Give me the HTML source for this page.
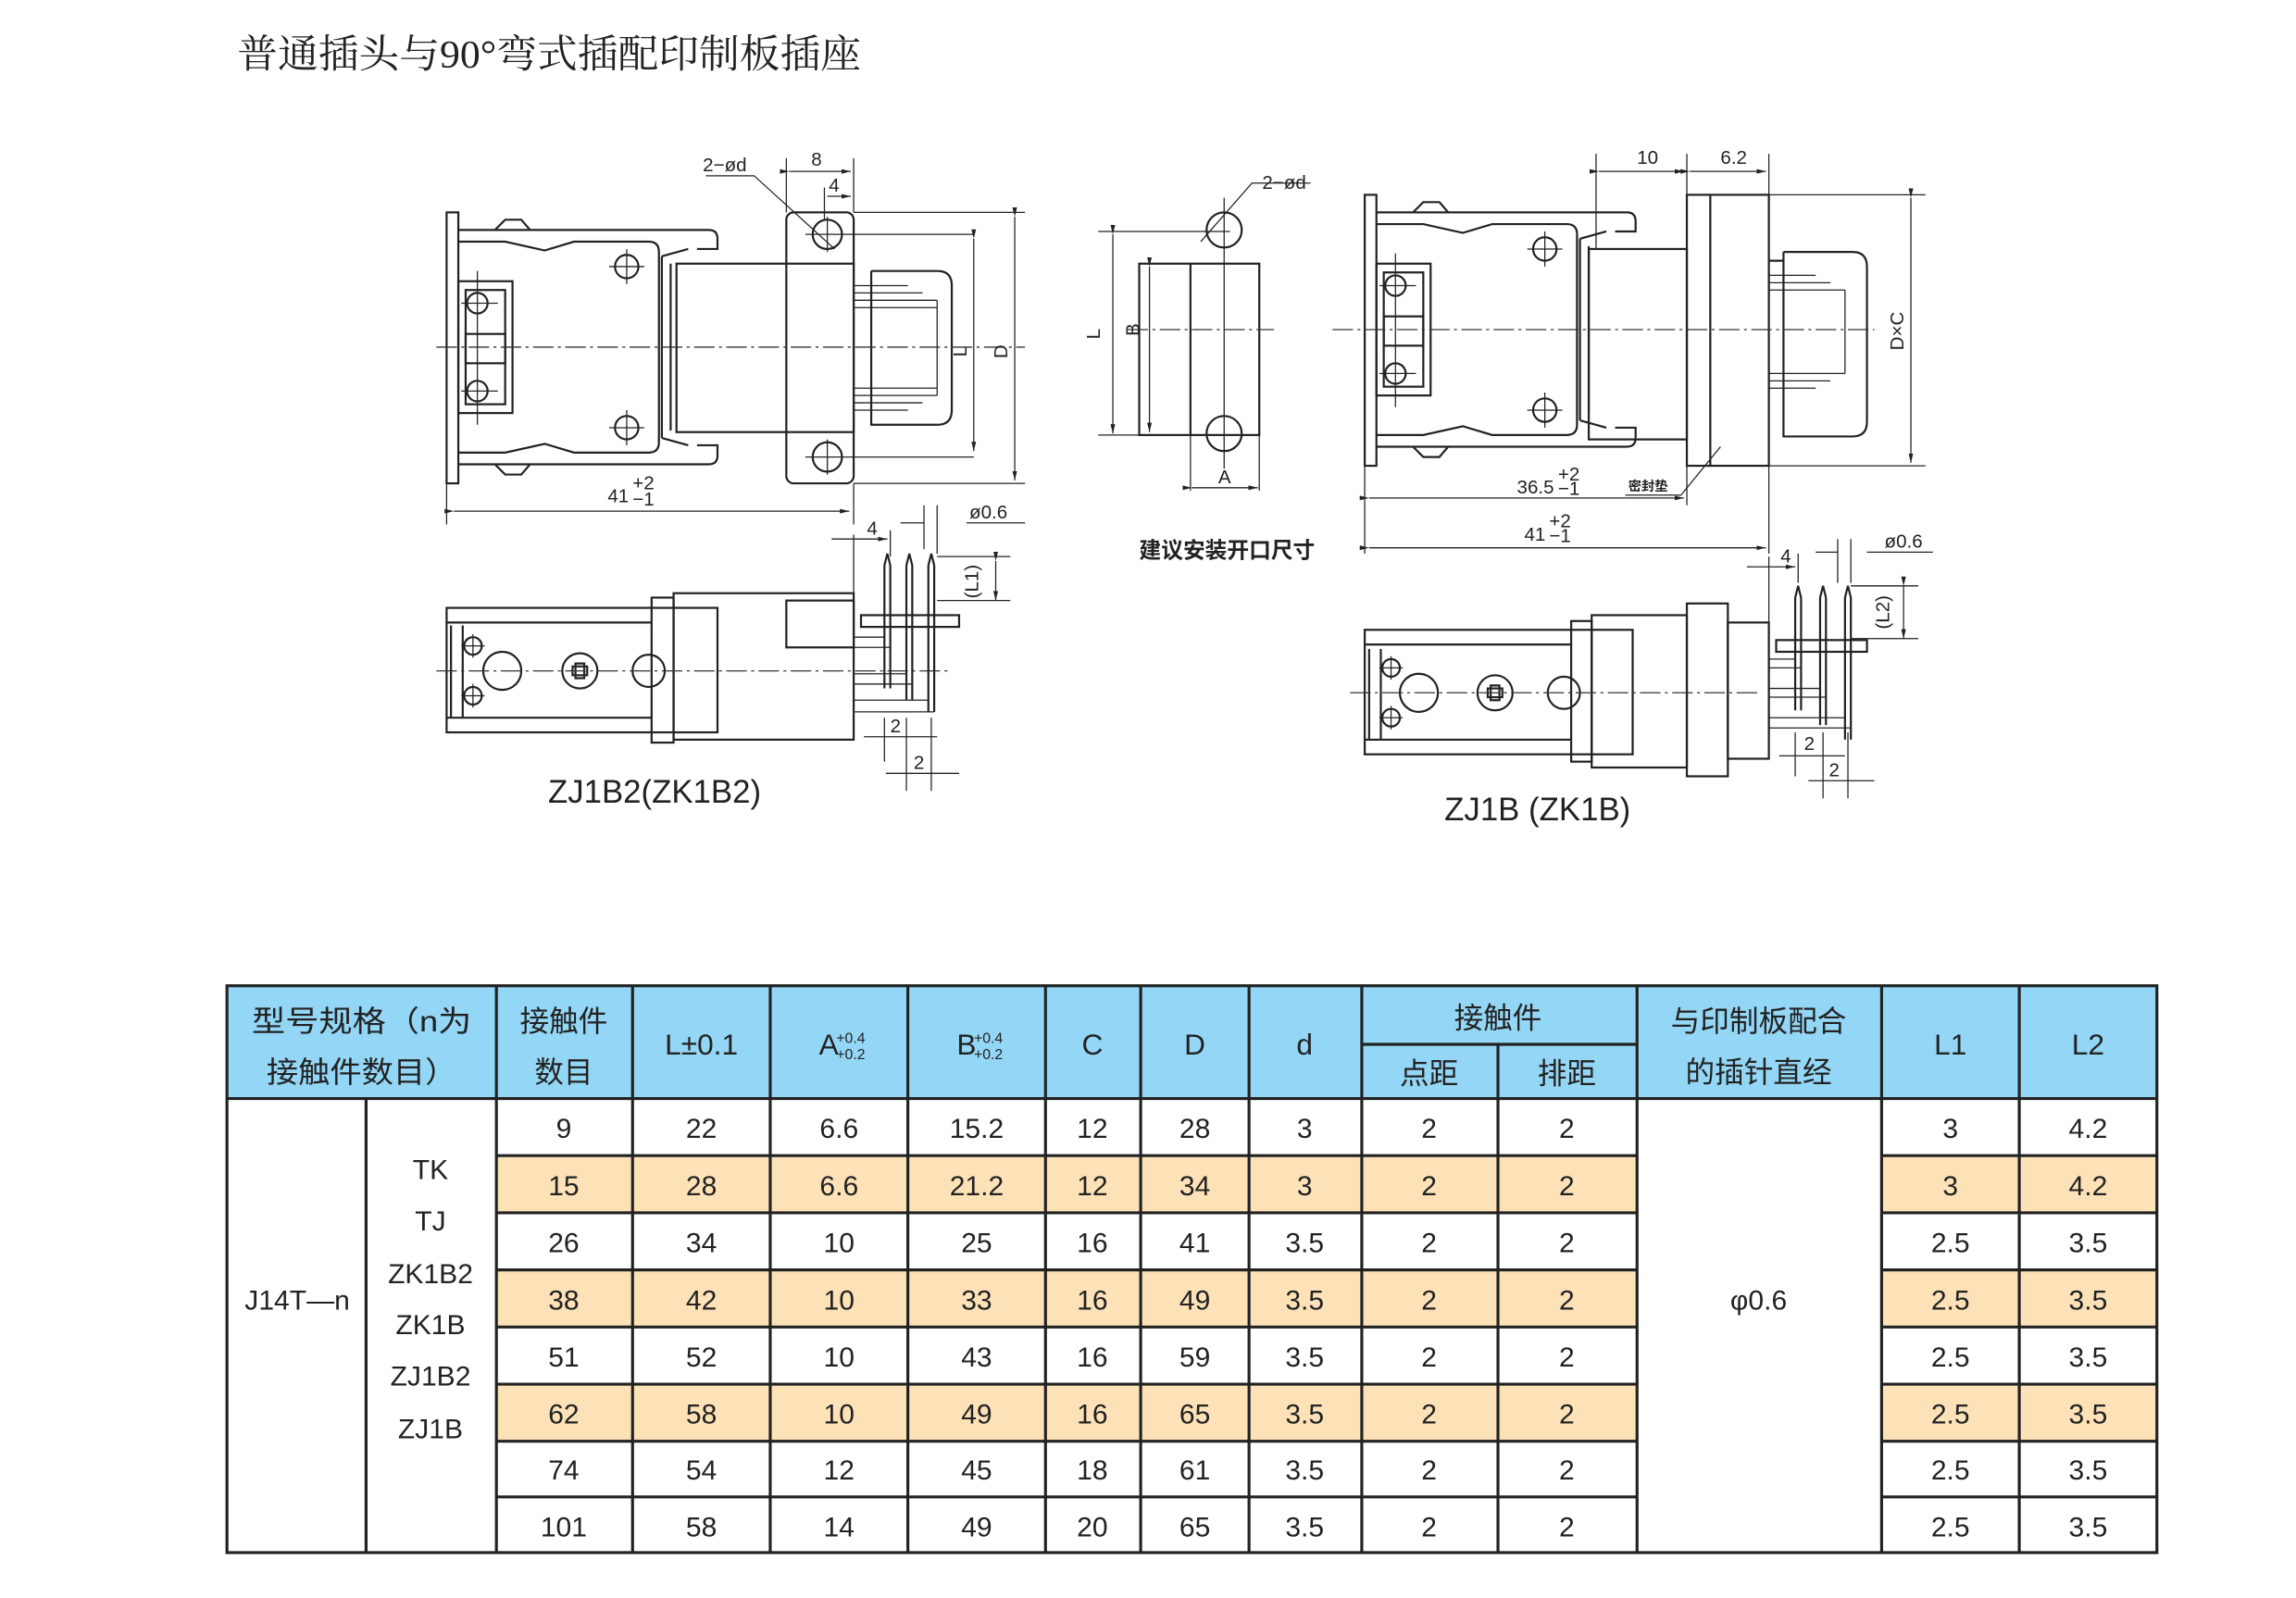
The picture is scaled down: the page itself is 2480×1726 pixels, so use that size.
<!DOCTYPE html>
<html><head><meta charset="utf-8"><style>
html,body{margin:0;padding:0;background:#fff;}
svg{display:block;}
.l{fill:none;stroke:#222;stroke-width:1.4;}
.t{fill:none;stroke:#222;stroke-width:0.8;}
.c{fill:none;stroke:#333;stroke-width:0.8;stroke-dasharray:14 3 2 3;}
.d{font-family:"Liberation Sans",sans-serif;font-size:13px;fill:#222;}
.tb{font-family:"Liberation Sans","Noto Sans CJK SC",sans-serif;font-size:19px;fill:#222;text-anchor:middle;}
.hd{font-family:"Liberation Sans","Noto Sans CJK SC",sans-serif;font-size:20px;fill:#222;text-anchor:middle;}
</style></head><body>
<svg width="2480" height="1726" viewBox="0 0 1568 1091" preserveAspectRatio="none" xmlns="http://www.w3.org/2000/svg">
<defs>
<marker id="a" markerWidth="8" markerHeight="6" refX="8" refY="3" orient="auto"><path d="M0,1 L8,3 L0,5z" fill="#222"/></marker>
<g id="plug">
  <rect class="l" x="305" y="145" width="8" height="185"/>
  <path class="l" d="M313,157 H484 Q490,157 490,163 V170 H476 M313,317 H484 Q490,317 490,311 V304 H476"/>
  <path class="l" d="M313,165 H345 L372,171 L392,165 H443 Q450,165 450,172 V302 Q450,309 443,309 H392 L372,303 L345,309 H313"/>
  <path class="l" d="M338,157 L345,150 H356 L362,157 M338,317 L345,324 H356 L362,317"/>
  <rect class="l" x="313" y="192" width="37" height="90"/>
  <rect class="l" x="318" y="198" width="27" height="78"/>
  <rect class="l" x="318" y="228" width="27" height="20"/>
  <circle class="l" cx="326" cy="207" r="7"/><circle class="l" cx="326" cy="267" r="7"/>
  <path class="t" d="M326,185 V290 M315,207 H340 M315,267 H340"/>
  <circle class="l" cx="428" cy="182" r="8"/><circle class="l" cx="428" cy="292" r="8"/>
  <path class="t" d="M416,182 H440 M428,170 V194 M416,292 H440 M428,280 V304"/>
  <path class="l" d="M452,175 V299 M458,180 V294 M452,175 L470,170 M452,299 L470,304"/>
</g>
</defs>
<text x="162" y="46" font-family="'Liberation Serif','Noto Serif CJK SC',serif" font-size="27" fill="#222" textLength="426" lengthAdjust="spacingAndGlyphs">普通插头与90°弯式插配印制板插座</text>

<use href="#plug"/>
<rect class="l" x="462" y="180" width="121" height="115"/>
<rect class="l" x="537" y="145" width="46" height="185" rx="5"/>
<circle class="l" cx="565" cy="160" r="10"/><circle class="l" cx="565" cy="312" r="10"/>
<path class="t" d="M550,160 H665 M550,312 H665 M565,148 V172 M565,300 V324"/>
<path class="l" d="M595,185 H640 Q650,185 650,195 V280 Q650,290 640,290 H595 V185"/>
<path class="t" d="M583,195 H620 M583,200 H630 M583,205 H640 M583,210 H640 M583,265 H640 M583,270 H640 M583,275 H630 M583,280 H620 M640,205 V270"/>
<path class="c" d="M298,237 H700"/>
<path class="t" d="M583,145 H700 M583,330 H700"/>
<path class="t" d="M665,163 V308" marker-start="url(#a)" marker-end="url(#a)"/>
<path class="t" d="M693,148 V328" marker-start="url(#a)" marker-end="url(#a)"/>
<text class="d" x="660" y="240" transform="rotate(-90 660 240)" text-anchor="middle">L</text>
<text class="d" x="688" y="240" transform="rotate(-90 688 240)" text-anchor="middle">D</text>
<path class="t" d="M305,330 V358 M583,330 V358 M537,108 V145 M583,108 V145 M563,128 V150"/>
<path class="t" d="M310,349 H580" marker-start="url(#a)" marker-end="url(#a)"/>
<text class="d" x="415" y="343">41</text><text x="432" y="334" font-size="8" class="d">+2</text><text x="432" y="345" font-size="8" class="d">−1</text>
<path class="t" d="M539,117 H581" marker-start="url(#a)" marker-end="url(#a)"/>
<text class="d" x="554" y="113">8</text>
<path class="t" d="M565,134 H581" marker-end="url(#a)"/><text class="d" x="566" y="131">4</text>
<text class="d" x="480" y="117">2−ød</text>
<path class="t" d="M482,120 H515 L570,170"/>

<rect class="l" x="305" y="415" width="185" height="85"/>
<path class="l" d="M305,425 H445 M305,490 H445 M308,427 V490 M316,427 V490"/>
<rect class="l" x="445" y="408" width="15" height="99"/>
<rect class="l" x="460" y="405" width="123" height="100"/>
<rect class="l" x="537" y="410" width="46" height="32"/>
<circle class="l" cx="343" cy="458" r="13"/><circle class="l" cx="396" cy="458" r="12"/><circle class="l" cx="443" cy="458" r="11"/>
<path class="l" d="M391,455 H401 V461 H391Z M393,453 H399 V463 H393Z"/>
<circle class="l" cx="323" cy="441" r="6"/><circle class="l" cx="323" cy="475" r="6"/>
<path class="t" d="M315,441 H331 M323,433 V449 M315,475 H331 M323,467 V483"/>
<path class="c" d="M298,458 H650"/>
<rect class="l" x="588" y="420" width="67" height="8"/>
<path class="l" d="M604,386 V470 M608,386 V470 M619,386 V478 M623,386 V478 M634,386 V486 M638,386 V486 M604,386 L606,378 L608,386 M619,386 L621,378 L623,386 M634,386 L636,378 L638,386"/>
<path class="t" d="M583,435 H604 M583,442 H608 M583,460 H619 M583,467 H623 M583,478 H634 M583,486 H638"/>
<path class="t" d="M583,365 V405 M608,362 V380 M631,345 V375 M640,345 V378 M640,380 H690 M640,410 H690 M604,490 V520 M619,490 V540 M636,490 V540"/>
<path class="t" d="M568,368 H606" marker-end="url(#a)"/><text class="d" x="592" y="365">4</text>
<path class="t" d="M615,357 H631 M660,357 H700"/><text class="d" x="662" y="354">ø0.6</text>
<path class="t" d="M680,383 V410" marker-start="url(#a)" marker-end="url(#a)"/>
<text class="d" x="668" y="397" transform="rotate(-90 668 397)" text-anchor="middle">(L1)</text>
<path class="t" d="M590,503 H640"/><text class="d" x="608" y="500">2</text>
<path class="t" d="M605,528 H655"/><text class="d" x="624" y="525">2</text>
<text x="447" y="548" font-family="'Liberation Sans',sans-serif" font-size="22" fill="#222" text-anchor="middle">ZJ1B2(ZK1B2)</text>

<rect class="l" x="778" y="180" width="82" height="117"/>
<path class="l" d="M813,180 V297"/>
<circle class="l" cx="836" cy="157" r="12"/><circle class="l" cx="836" cy="296" r="12"/>
<path class="t" d="M836,135 V320 M750,158 H840 M750,297 H836 M813,297 V335 M860,297 V335 M820,165 L855,125 H895"/>
<path class="c" d="M770,225 H870"/>
<path class="t" d="M760,160 V296" marker-start="url(#a)" marker-end="url(#a)"/>
<path class="t" d="M785,182 V295" marker-start="url(#a)" marker-end="url(#a)"/>
<path class="t" d="M814,333 H859" marker-start="url(#a)" marker-end="url(#a)"/>
<text class="d" x="751" y="228" transform="rotate(-90 751 228)" text-anchor="middle">L</text>
<text class="d" x="778" y="225" transform="rotate(-90 778 225)" text-anchor="middle">B</text>
<text class="d" x="832" y="330">A</text>
<text class="d" x="862" y="129">2−ød</text>
<text x="838" y="381" font-family="'Liberation Sans','Noto Sans CJK SC',sans-serif" font-size="15" font-weight="bold" fill="#222" text-anchor="middle">建议安装开口尺寸</text>

<use href="#plug" transform="translate(627,-12)"/>
<rect class="l" x="1085" y="170" width="67" height="130"/>
<rect class="l" x="1152" y="133" width="56" height="185"/>
<path class="l" d="M1168,133 V318"/>
<path class="l" d="M1208,178 H1218 M1218,172 H1265 Q1275,172 1275,182 V288 Q1275,298 1265,298 H1218 V172"/>
<path class="t" d="M1208,188 H1240 M1208,193 H1250 M1208,198 H1260 M1208,255 H1260 M1208,260 H1250 M1208,265 H1240 M1260,198 V255"/>
<path class="c" d="M910,225 H1280"/>
<path class="t" d="M1208,133 H1315 M1208,318 H1315 M1090,105 V170 M1152,105 V133 M1208,105 V133"/>
<path class="t" d="M1305,135 V316" marker-start="url(#a)" marker-end="url(#a)"/>
<text class="d" x="1300" y="226" transform="rotate(-90 1300 226)" text-anchor="middle">D×C</text>
<path class="t" d="M1092,117 H1150" marker-start="url(#a)" marker-end="url(#a)"/><text class="d" x="1118" y="112">10</text>
<path class="t" d="M1154,117 H1206" marker-start="url(#a)" marker-end="url(#a)"/><text class="d" x="1175" y="112">6.2</text>
<path class="t" d="M932,318 V378 M1152,318 V345 M1208,318 V378"/>
<path class="t" d="M935,340 H1150" marker-start="url(#a)" marker-end="url(#a)"/>
<text class="d" x="1036" y="337">36.5</text><text class="d" font-size="8" x="1064" y="328">+2</text><text class="d" font-size="8" x="1064" y="338">−1</text>
<path class="t" d="M935,374 H1206" marker-start="url(#a)" marker-end="url(#a)"/>
<text class="d" x="1041" y="369">41</text><text class="d" font-size="8" x="1058" y="360">+2</text><text class="d" font-size="8" x="1058" y="370">−1</text>
<path class="t" d="M1110,338 H1148 L1175,305"/>
<text x="1112" y="335" font-family="'Liberation Sans','Noto Sans CJK SC',sans-serif" font-size="9" font-weight="bold" fill="#222">密封垫</text>

<rect class="l" x="932" y="430" width="183" height="85"/>
<path class="l" d="M932,440 H1073 M932,505 H1073 M935,443 V505 M943,443 V505"/>
<rect class="l" x="1073" y="424" width="14" height="96"/>
<rect class="l" x="1087" y="420" width="65" height="104"/>
<rect class="l" x="1152" y="412" width="28" height="118"/>
<rect class="l" x="1180" y="425" width="28" height="93"/>
<circle class="l" cx="969" cy="473" r="13"/><circle class="l" cx="1021" cy="473" r="12"/><circle class="l" cx="1068" cy="473" r="11"/>
<path class="l" d="M1016,470 H1026 V476 H1016Z M1018,468 H1024 V478 H1018Z"/>
<circle class="l" cx="950" cy="456" r="6"/><circle class="l" cx="950" cy="490" r="6"/>
<path class="t" d="M942,456 H958 M950,448 V464 M942,490 H958 M950,482 V498"/>
<path class="c" d="M922,473 H1200"/>
<rect class="l" x="1213" y="437" width="62" height="8"/>
<path class="l" d="M1226,408 V485 M1230,408 V485 M1243,408 V495 M1247,408 V495 M1260,408 V505 M1264,408 V505 M1226,408 L1228,400 L1230,408 M1243,408 L1245,400 L1247,408 M1260,408 L1262,400 L1264,408"/>
<path class="t" d="M1208,450 H1226 M1208,456 H1230 M1208,470 H1243 M1208,476 H1247 M1208,490 H1260 M1208,497 H1264"/>
<path class="t" d="M1208,380 V425 M1228,378 V398 M1255,368 V398 M1264,368 V398 M1264,400 H1310 M1264,436 H1310 M1226,500 V530 M1245,500 V545 M1262,500 V545"/>
<path class="t" d="M1193,387 H1226" marker-end="url(#a)"/><text class="d" x="1216" y="384">4</text>
<path class="t" d="M1240,377 H1255 M1275,377 H1320"/><text class="d" x="1287" y="374">ø0.6</text>
<path class="t" d="M1300,400 V436" marker-start="url(#a)" marker-end="url(#a)"/>
<text class="d" x="1290" y="418" transform="rotate(-90 1290 418)" text-anchor="middle">(L2)</text>
<path class="t" d="M1215,516 H1260"/><text class="d" x="1232" y="512">2</text>
<path class="t" d="M1235,533 H1280"/><text class="d" x="1249" y="530">2</text>
<text x="1050" y="560" font-family="'Liberation Sans',sans-serif" font-size="22" fill="#222" text-anchor="middle">ZJ1B (ZK1B)</text>

<rect x="155" y="673" width="1318" height="77" fill="#93d6f5"/>
<g fill="#fde2b8">
<rect x="339" y="789" width="779" height="39"/><rect x="1285" y="789" width="188" height="39"/>
<rect x="339" y="867" width="779" height="39"/><rect x="1285" y="867" width="188" height="39"/>
<rect x="339" y="945" width="779" height="39"/><rect x="1285" y="945" width="188" height="39"/>
</g>
<g stroke="#222" stroke-width="2" fill="none">
<rect x="155" y="673" width="1318" height="387"/>
<path d="M155,750 H1473 M930,713 H1118"/>
<path d="M339,789 H1118 M339,828 H1118 M339,867 H1118 M339,906 H1118 M339,945 H1118 M339,984 H1118 M339,1022 H1118"/>
<path d="M1285,789 H1473 M1285,828 H1473 M1285,867 H1473 M1285,906 H1473 M1285,945 H1473 M1285,984 H1473 M1285,1022 H1473"/>
<path d="M339,673 V1060 M432,673 V1060 M526,673 V1060 M620,673 V1060 M714,673 V1060 M779,673 V1060 M853,673 V1060 M930,673 V1060 M1118,673 V1060 M1285,673 V1060 M1379,673 V1060 M250,750 V1060 M1023,713 V1060"/>
</g>
<g class="hd">
<text x="247" y="704" textLength="150" lengthAdjust="spacingAndGlyphs">型号规格（n为</text>
<text x="247" y="739" textLength="130" lengthAdjust="spacingAndGlyphs">接触件数目）</text>
<text x="385" y="704">接触件</text><text x="385" y="739">数目</text>
<text x="479" y="720">L±0.1</text>
<text x="566" y="720">A</text><text x="581" y="712" font-size="10">+0.4</text><text x="581" y="723" font-size="10">+0.2</text>
<text x="660" y="720">B</text><text x="675" y="712" font-size="10">+0.4</text><text x="675" y="723" font-size="10">+0.2</text>
<text x="746" y="720">C</text><text x="816" y="720">D</text><text x="891" y="720">d</text>
<text x="1023" y="702">接触件</text>
<text x="976" y="740">点距</text><text x="1070" y="740">排距</text>
<text x="1201" y="704">与印制板配合</text><text x="1201" y="739">的插针直经</text>
<text x="1332" y="720">L1</text><text x="1426" y="720">L2</text>
</g>
<g class="tb">
<text x="203" y="894">J14T—n</text>
<text x="294" y="805">TK</text><text x="294" y="840">TJ</text><text x="294" y="876">ZK1B2</text><text x="294" y="911">ZK1B</text><text x="294" y="946">ZJ1B2</text><text x="294" y="982">ZJ1B</text>
<text x="1201" y="894">φ0.6</text>
</g>
<g class="tb">
<g transform="translate(0,777)"><text x="385">9</text><text x="479">22</text><text x="573">6.6</text><text x="667">15.2</text><text x="746">12</text><text x="816">28</text><text x="891">3</text><text x="976">2</text><text x="1070">2</text><text x="1332">3</text><text x="1426">4.2</text></g>
<g transform="translate(0,816)"><text x="385">15</text><text x="479">28</text><text x="573">6.6</text><text x="667">21.2</text><text x="746">12</text><text x="816">34</text><text x="891">3</text><text x="976">2</text><text x="1070">2</text><text x="1332">3</text><text x="1426">4.2</text></g>
<g transform="translate(0,855)"><text x="385">26</text><text x="479">34</text><text x="573">10</text><text x="667">25</text><text x="746">16</text><text x="816">41</text><text x="891">3.5</text><text x="976">2</text><text x="1070">2</text><text x="1332">2.5</text><text x="1426">3.5</text></g>
<g transform="translate(0,894)"><text x="385">38</text><text x="479">42</text><text x="573">10</text><text x="667">33</text><text x="746">16</text><text x="816">49</text><text x="891">3.5</text><text x="976">2</text><text x="1070">2</text><text x="1332">2.5</text><text x="1426">3.5</text></g>
<g transform="translate(0,933)"><text x="385">51</text><text x="479">52</text><text x="573">10</text><text x="667">43</text><text x="746">16</text><text x="816">59</text><text x="891">3.5</text><text x="976">2</text><text x="1070">2</text><text x="1332">2.5</text><text x="1426">3.5</text></g>
<g transform="translate(0,972)"><text x="385">62</text><text x="479">58</text><text x="573">10</text><text x="667">49</text><text x="746">16</text><text x="816">65</text><text x="891">3.5</text><text x="976">2</text><text x="1070">2</text><text x="1332">2.5</text><text x="1426">3.5</text></g>
<g transform="translate(0,1010)"><text x="385">74</text><text x="479">54</text><text x="573">12</text><text x="667">45</text><text x="746">18</text><text x="816">61</text><text x="891">3.5</text><text x="976">2</text><text x="1070">2</text><text x="1332">2.5</text><text x="1426">3.5</text></g>
<g transform="translate(0,1049)"><text x="385">101</text><text x="479">58</text><text x="573">14</text><text x="667">49</text><text x="746">20</text><text x="816">65</text><text x="891">3.5</text><text x="976">2</text><text x="1070">2</text><text x="1332">2.5</text><text x="1426">3.5</text></g>
</g>
</svg>
</body></html>
